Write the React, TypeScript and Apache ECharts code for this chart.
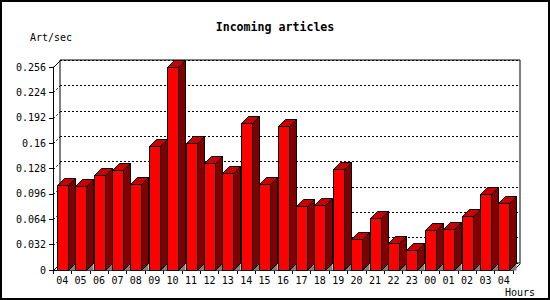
import React, { useEffect, useRef } from "react";
import * as echarts from "echarts";

const hours = ["04","05","06","07","08","09","10","11","12","13","14","15","16","17","18","19","20","21","22","23","00","01","02","03","04"];
const artPerSec = [0.107,0.106,0.120,0.126,0.109,0.156,0.256,0.160,0.135,0.122,0.186,0.108,0.182,0.081,0.082,0.128,0.039,0.065,0.034,0.025,0.050,0.052,0.068,0.096,0.084];
const yTicks = [0,0.032,0.064,0.096,0.128,0.16,0.192,0.224,0.256];
const yMin = 0;
const yMax = 0.256;
const yStep = 0.032;

const DEPTH = 7;
const BAR_RATIO = 0.6;
const MONO = "'DejaVu Sans Mono', 'Liberation Mono', monospace";

export default function App() {
  const ref = useRef<HTMLDivElement>(null);
  useEffect(() => {
    if (!ref.current) return;
    const chart = echarts.init(ref.current, null, { renderer: "svg" });
    const labelStyle = { fontFamily: MONO, fontSize: 10, color: "#000" };
    chart.setOption({
      animation: false,
      backgroundColor: "#fff",
      grid: [
        { left: 53, top: 67, width: 460, height: 203 },
        { left: 60, top: 60, width: 460, height: 203, show: true, borderColor: "#000", borderWidth: 1, backgroundColor: "transparent" },
      ],
      xAxis: [
        {
          type: "category", gridIndex: 0, data: hours,
          axisLine: { show: true, lineStyle: { color: "#000", width: 1 } },
          axisTick: { show: true, length: 4, lineStyle: { color: "#000" } },
          axisLabel: { ...labelStyle, margin: 5, interval: 0 },
          splitLine: { show: false },
        },
        {
          type: "category", gridIndex: 1, data: hours, show: false,
        },
      ],
      yAxis: [
        {
          type: "value", gridIndex: 0, min: yMin, max: yMax, interval: yStep,
          axisLine: { show: true, lineStyle: { color: "#000", width: 1 } },
          axisTick: { show: true, length: 4, lineStyle: { color: "#000" } },
          axisLabel: { ...labelStyle, margin: 7, formatter: (v: number) => String(+v.toFixed(3)) },
          splitLine: { show: false },
        },
        {
          type: "value", gridIndex: 1, min: yMin, max: yMax, interval: yStep,
          axisLine: { show: false }, axisTick: { show: false }, axisLabel: { show: false },
          splitLine: { show: true, lineStyle: { color: "#000", width: 1, type: [2, 2] } },
        },
      ],
      graphic: [
        { type: "rect", shape: { x: 1, y: 1, width: 548, height: 298 }, style: { fill: "none", stroke: "#000", lineWidth: 2 }, silent: true },
        { type: "text", x: 275, y: 27, style: { text: "Incoming articles", fontFamily: MONO, fontWeight: "bold", fontSize: 11.6, fill: "#000", align: "center", verticalAlign: "middle" } },
        { type: "text", x: 30, y: 37, style: { text: "Art/sec", fontFamily: MONO, fontSize: 10, fill: "#000", align: "left", verticalAlign: "middle" } },
        { type: "text", x: 505, y: 292, style: { text: "Hours", fontFamily: MONO, fontSize: 10, fill: "#000", align: "left", verticalAlign: "middle" } },
      ],
      series: [
        {
          type: "custom", xAxisIndex: 0, yAxisIndex: 0,
          data: yTicks.map((v) => [0, v]),
          renderItem: (params: any, api: any) => {
            const v = api.value(1);
            const cs = params.coordSys;
            const p = api.coord([0, v]);
            const y = Math.round(p[1]) + 0.5;
            const x = Math.round(cs.x) + 0.5;
            const solid = v === yMin || v === yMax;
            const children: any[] = [
              { type: "line", shape: { x1: x, y1: y, x2: x + DEPTH, y2: y - DEPTH }, style: { stroke: "#000", lineWidth: 1, lineDash: solid ? null : [2, 2] } },
            ];
            if (v === yMin) {
              const xr = Math.round(cs.x + cs.width) + 0.5;
              children.push({ type: "line", shape: { x1: xr, y1: y, x2: xr + DEPTH, y2: y - DEPTH }, style: { stroke: "#000", lineWidth: 1 } });
            }
            return { type: "group", children };
          },
          z: 1,
        },
        {
          type: "custom", xAxisIndex: 0, yAxisIndex: 0,
          data: artPerSec.map((v, i) => [i, v]),
          encode: { x: 0, y: 1 },
          renderItem: (params: any, api: any) => {
            const idx = api.value(0);
            const v = api.value(1);
            const top = api.coord([idx, v]);
            const base = api.coord([idx, 0]);
            const bw = Math.round(api.size([1, 0])[0] * BAR_RATIO);
            const x0 = Math.round(top[0] - bw / 2) + 0.5;
            const x1 = x0 + bw;
            const yt = Math.round(top[1]) + 0.5;
            const yb = Math.round(base[1]) + 0.5;
            const d = DEPTH;
            return {
              type: "group",
              children: [
                { type: "polygon", shape: { points: [[x1, yb], [x1 + d, yb - d], [x1 + d, yb]] }, style: { fill: "#808080", stroke: "none" } },
                { type: "rect", shape: { x: x0, y: yt, width: x1 - x0, height: yb - yt }, style: { fill: "#ff0000", stroke: "#000", lineWidth: 1 } },
                { type: "polygon", shape: { points: [[x0, yt], [x0 + d, yt - d], [x1 + d, yt - d], [x1, yt]] }, style: { fill: "#c80000", stroke: "#000", lineWidth: 1 } },
                { type: "polygon", shape: { points: [[x1, yt], [x1 + d, yt - d], [x1 + d, yb - d], [x1, yb]] }, style: { fill: "#800000", stroke: "#000", lineWidth: 1 } },
              ],
            };
          },
          z: 3,
        },
      ],
    });
    return () => chart.dispose();
  }, []);
  return <div ref={ref} style={{ position: "absolute", left: 0, top: 0, width: 550, height: 300 }} />;
}
